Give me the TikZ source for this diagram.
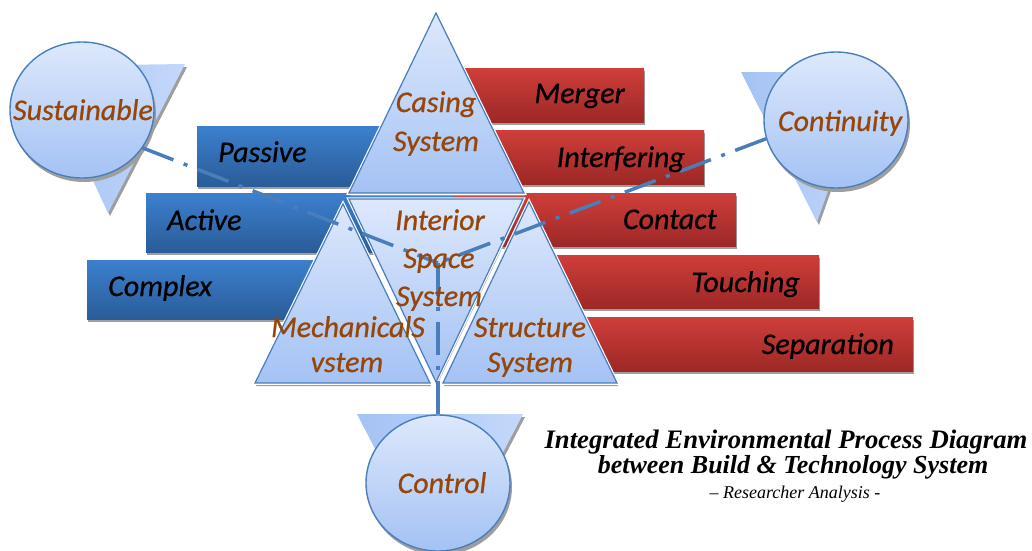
\documentclass[tikz,border=0pt]{standalone}
\usepackage{fontspec}
\newfontfamily\labfont{Carlito Italic}[FakeBold=0.7]
\newfontfamily\capfont{Liberation Serif}
\usetikzlibrary{shapes.geometric}

\definecolor{edgeblue}{RGB}{74,126,187}
\definecolor{triTop}{RGB}{221,232,252}
\definecolor{triBot}{RGB}{164,194,244}
\definecolor{barBlueTop}{RGB}{60,128,206}
\definecolor{barBlueBot}{RGB}{42,92,152}
\definecolor{barRedTop}{RGB}{207,62,58}
\definecolor{barRedBot}{RGB}{156,40,38}
\definecolor{brownText}{RGB}{150,70,8}
\definecolor{shadowGrey}{RGB}{158,158,158}
\definecolor{backTriA}{RGB}{164,194,244}
\definecolor{backTriB}{RGB}{196,216,250}

\tikzset{
  softshadow/.style={preaction={fill=shadowGrey, transform canvas={xshift=1pt,yshift=-3pt}}},
  bluebar/.style={softshadow, top color=barBlueTop, bottom color=barBlueBot},
  redbar/.style={softshadow, top color=barRedTop, bottom color=barRedBot},
  tri/.style={softshadow, preaction={draw=white, line width=3.5pt, line join=miter},
    top color=triTop, bottom color=triBot, draw=edgeblue, line width=1.2pt, line join=miter},
  backtri/.style={preaction={fill=shadowGrey, transform canvas={xshift=2pt,yshift=-3pt}},
    left color=backTriA, right color=backTriB},
  bubble/.style={ellipse, minimum width=144pt, minimum height=136pt, inner sep=0pt,
    preaction={fill=shadowGrey, transform canvas={xshift=2pt,yshift=-4pt}},
    top color=triTop, bottom color=triBot, draw=edgeblue, line width=1.4pt},
  conn/.style={draw=edgeblue, line width=3.5pt, dash pattern=on 33pt off 11pt on 4pt off 11pt},
  barlabel/.style={font=\labfont\fontsize{30}{36}\selectfont, text=black, inner sep=0pt},
  syslabel/.style={font=\labfont\fontsize{30}{36}\selectfont, text=brownText, inner sep=0pt, anchor=base},
  captionA/.style={font=\capfont\bfseries\itshape\fontsize{26}{30}\selectfont, inner sep=0pt, anchor=base},
  captionB/.style={font=\capfont\itshape\fontsize{18}{22}\selectfont, inner sep=0pt, anchor=base}
}

\begin{document}
\begin{tikzpicture}[x=1pt,y=-1pt]
\useasboundingbox (0,0) rectangle (1032,550);

% blue strategy bars
\path[bluebar] (197,126) rectangle (420,186);
\path[bluebar] (146,193) rectangle (453,252);
\path[bluebar] (87,260) rectangle (360,319);

% red relation bars
\path[redbar] (450,68) rectangle (644,122);
\path[redbar] (450,130) rectangle (704,184);
\path[redbar] (453,193) rectangle (736,246);
\path[redbar] (520,255) rectangle (819,308);
\path[redbar] (530,317) rectangle (913,371);

% pointers behind the three bubbles
\path[backtri] (40,66) -- (185,64) -- (108,213) -- cycle;
\path[backtri] (741,72) -- (870,72) -- (817,222) -- cycle;
\path[backtri] (357,414) -- (523,414) -- (440,574) -- cycle;

% system triangles
\path[tri] (349,193) -- (436,13) -- (524,193) -- cycle;
\path[tri] (349,199) -- (523,199) -- (436,382) -- cycle;
\path[tri] (255,383) -- (343,204) -- (430,383) -- cycle;
\path[tri] (443,383) -- (529,202) -- (617,383) -- cycle;

% bubbles
\node[bubble] (sust) at (82,110) {};
\node[bubble] (cont) at (836,120) {};
\node[bubble] (ctrl) at (438,483) {};

% dash-dot links meeting inside the interior space
\coordinate (hub) at (438,263);
\draw[conn] (sust.-32) -- (hub);
\draw[conn] (cont.195) -- (hub);
\draw[conn] (ctrl.north) -- (hub);

% bubble labels
\node[syslabel] (sustText) at (83,120) {Sustainable};
\node[syslabel] (contText) at (840,131) {Continuity};
\node[syslabel] (ctrlText) at (442,493) {Control};

% bar labels
\node[barlabel, anchor=base west] (passive) at (218,162) {Passive};
\node[barlabel, anchor=base west] (active) at (167,230) {Active};
\node[barlabel, anchor=base west] (complex) at (108,296) {Complex};
\node[barlabel, anchor=base east] (merger) at (625,103) {Merger};
\node[barlabel, anchor=base east] (interfering) at (685,167) {Interfering};
\node[barlabel, anchor=base east] (contact) at (717,229) {Contact};
\node[barlabel, anchor=base east] (touching) at (800,292) {Touching};
\node[barlabel, anchor=base east] (separation) at (894,354) {Separation};

% system labels
\node[syslabel] (casingA) at (436,112) {Casing};
\node[syslabel] (casingB) at (436,151) {System};
\node[syslabel] (interiorA) at (440,230) {Interior};
\node[syslabel] (interiorB) at (439,268) {Space};
\node[syslabel] (interiorC) at (439,306) {System};
\node[syslabel] (mechA) at (348,337) {MechanicalS};
\node[syslabel] (mechB) at (347,372) {vstem};
\node[syslabel] (structA) at (530,337) {Structure};
\node[syslabel] (structB) at (530,372) {System};

% caption
\node[captionA, font=\capfont\bfseries\itshape\fontsize{26.7}{30}\selectfont] (capA) at (786,448) {Integrated Environmental Process Diagram};
\node[captionA] (capB) at (793,473) {between Build \& Technology System};
\node[captionB] (capC) at (795,498) {– Researcher Analysis -};
\end{tikzpicture}
\end{document}
